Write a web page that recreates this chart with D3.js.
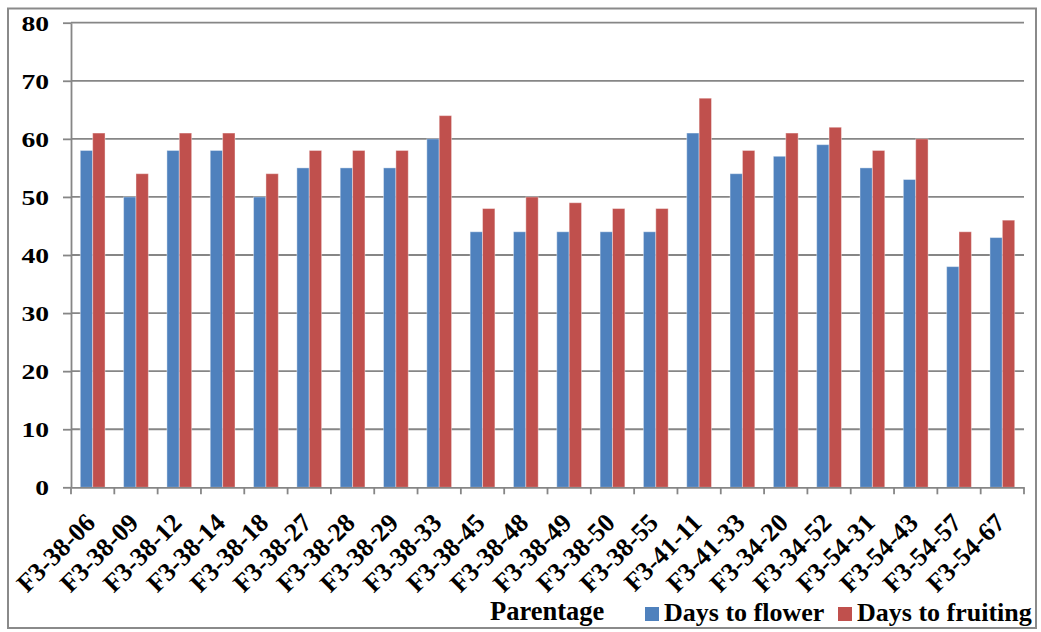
<!DOCTYPE html>
<html>
<head>
<meta charset="utf-8">
<script src="https://cdn.jsdelivr.net/npm/d3@7"></script>
<style>
  html, body { margin: 0; padding: 0; background: #fff; }
  svg { display: block; }
</style>
</head>
<body>
<svg id="chart" width="1041" height="632"></svg>
<script>
// Parentage lines and their days to flower / fruiting
const categories = ["F3-38-06","F3-38-09","F3-38-12","F3-38-14","F3-38-18","F3-38-27","F3-38-28","F3-38-29","F3-38-33","F3-38-45","F3-38-48","F3-38-49","F3-38-50","F3-38-55","F3-41-11","F3-41-33","F3-34-20","F3-34-52","F3-54-31","F3-54-43","F3-54-57","F3-54-67"];
const daysToFlower   = [58,50,58,58,50,55,55,55,60,44,44,44,44,44,61,54,57,59,55,53,38,43];
const daysToFruiting = [61,54,61,61,54,58,58,58,64,48,50,49,48,48,67,58,61,62,58,60,44,46];
const seriesNames = ["Days to flower","Days to fruiting"];
const seriesColors = ["#4F81BD","#C0504D"];
const yTicks = [0,10,20,30,40,50,60,70,80];
const xTitle = "Parentage";

const FONT = "Liberation Serif, Times New Roman, serif";
const svg = d3.select("#chart");
const plot = { left: 71, right: 1024, top: 22.7, bottom: 487.3 };

// outer frame
svg.append("rect")
  .attr("x", 8).attr("y", 8.5)
  .attr("width", 1028).attr("height", 619.5)
  .attr("fill", "none").attr("stroke", "#8a8a8a").attr("stroke-width", 2);

const x = d3.scaleBand().domain(categories).range([plot.left, plot.right]).padding(0);
const x1 = d3.scaleBand().domain(seriesNames).range([0, x.bandwidth()]).paddingInner(0).paddingOuter(0.75);
const y = d3.scaleLinear().domain([0, 80]).range([plot.bottom, plot.top]);

// horizontal gridlines
svg.append("g").selectAll("line").data(yTicks.filter(d => d > 0)).join("line")
  .attr("x1", plot.left).attr("x2", plot.right)
  .attr("y1", d => y(d)).attr("y2", d => y(d))
  .attr("stroke", "#868686").attr("stroke-width", 1.8);

// bars
const rows = categories.map((c, i) => ({ cat: c, vals: [daysToFlower[i], daysToFruiting[i]] }));
const groups = svg.append("g").selectAll("g").data(rows).join("g")
  .attr("transform", d => `translate(${x(d.cat)},0)`);
groups.selectAll("rect").data(d => d.vals.map((v, k) => ({ v, k }))).join("rect")
  .attr("x", d => x1(seriesNames[d.k]))
  .attr("width", x1.bandwidth())
  .attr("y", d => y(d.v))
  .attr("height", d => y(0) - y(d.v))
  .attr("fill", d => seriesColors[d.k])
  .attr("stroke", "rgba(255,255,255,0.4)")
  .attr("stroke-width", 1);

// y axis
const yAxis = svg.append("g")
  .attr("transform", `translate(${plot.left},0)`)
  .call(d3.axisLeft(y).tickValues(yTicks).tickSize(8).tickSizeOuter(0).tickFormat(d3.format("d")));
yAxis.attr("font-family", FONT).attr("font-weight", "bold");
yAxis.select(".domain").attr("stroke", "#868686").attr("stroke-width", 1.8);
yAxis.selectAll(".tick line").attr("stroke", "#868686").attr("stroke-width", 1.8);
yAxis.selectAll(".tick text")
  .attr("x", null)
  .attr("dy", null)
  .attr("font-size", 20)
  .attr("fill", "#000")
  .attr("text-anchor", "end")
  .attr("dominant-baseline", "central")
  .attr("transform", "translate(-22,1) scale(1.38,1)");

// x axis baseline with boundary ticks
const xAxis = svg.append("g")
  .attr("transform", `translate(0,${plot.bottom})`)
  .call(d3.axisBottom(x).tickSize(0).tickSizeOuter(0));
xAxis.attr("font-family", FONT).attr("font-weight", "bold");
xAxis.select(".domain").attr("stroke", "#868686").attr("stroke-width", 1.8);
const bounds = categories.map(c => x(c)).concat([plot.right]);
xAxis.selectAll(".bound").data(bounds).join("line").attr("class", "bound")
  .attr("x1", d => d).attr("x2", d => d).attr("y1", 0).attr("y2", 7)
  .attr("stroke", "#868686").attr("stroke-width", 1.8);
xAxis.selectAll(".tick text")
  .attr("y", null).attr("dy", null)
  .attr("font-size", 26)
  .attr("fill", "#000")
  .attr("text-anchor", "end")
  .attr("transform", "translate(4,37) rotate(-45)");

// legend row
const legend = svg.append("g").attr("font-family", FONT).attr("font-weight", "bold").attr("font-size", 26);
const legendY = 621;
legend.append("text").attr("x", 490).attr("y", legendY - 1).attr("font-size", 26.5).text(xTitle);
const legendX = [645, 838];
seriesNames.forEach((name, k) => {
  legend.append("rect").attr("x", legendX[k]).attr("y", 607).attr("width", 14).attr("height", 14)
    .attr("fill", seriesColors[k]);
  legend.append("text").attr("x", legendX[k] + 19).attr("y", legendY).text(name);
});
</script>
</body>
</html>
